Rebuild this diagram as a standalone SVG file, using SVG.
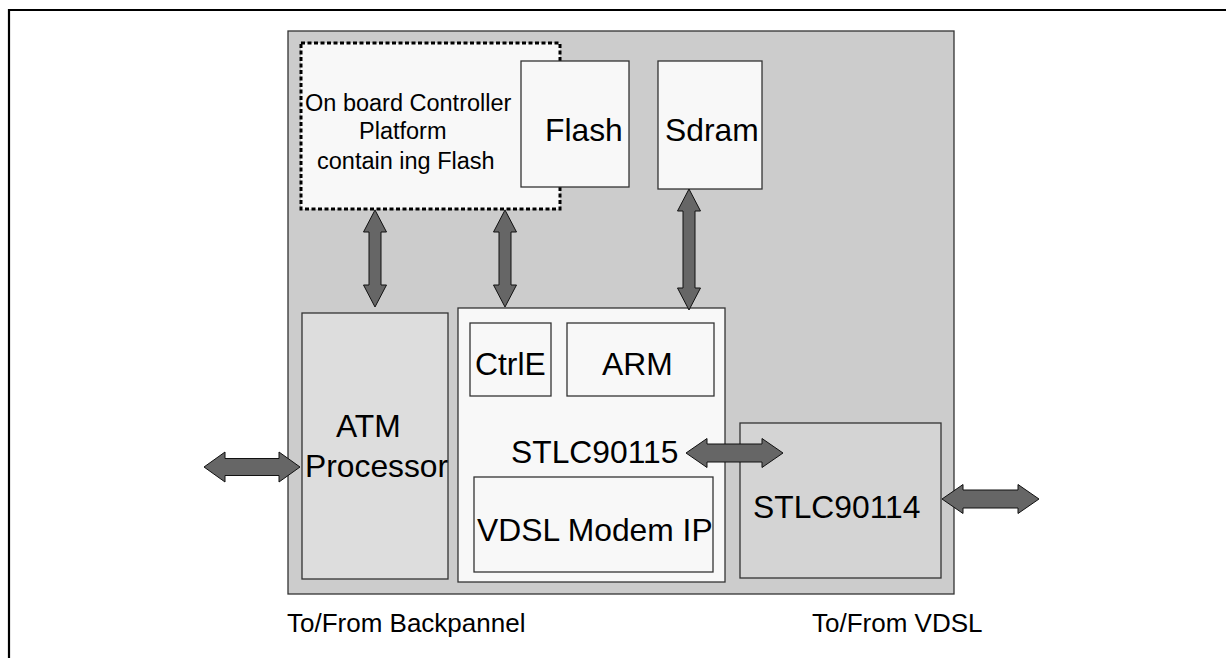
<svg xmlns="http://www.w3.org/2000/svg" width="1226" height="658" viewBox="0 0 1226 658">
<style>
.box{stroke:#333;stroke-width:1.3}
.lt{fill:#f8f8f8}
.t{font-family:"Liberation Sans",Arial,sans-serif;fill:#000}
.big{font-size:31.8px}
.mid{font-size:23.5px}
.sm{font-size:26px}
.arr{fill:#666;stroke:#111;stroke-width:1}
</style>
<rect width="1226" height="658" fill="#fff"/>
<g id="frame">
<path d="M9 658 V10 H1226" fill="none" stroke="#000" stroke-width="2.2"/>
</g>
<g id="board">
<rect class="box" x="288" y="31" width="666" height="563" fill="#cccccc"/>
</g>
<g id="controller-platform">
<rect x="301" y="43" width="259" height="166" fill="#f8f8f8" stroke="#000" stroke-width="3" stroke-dasharray="4 2.5"/>
<text class="t mid" x="305" y="111">On board Controller</text>
<text class="t mid" x="359" y="139">Platform</text>
<text class="t mid" x="317" y="169">contain ing Flash</text>
</g>
<g id="flash">
<rect class="box lt" x="521" y="61" width="108" height="126"/>
<text class="t big" x="545" y="141">Flash</text>
</g>
<g id="sdram">
<rect class="box lt" x="658" y="61" width="104" height="128"/>
<text class="t big" x="665" y="141">Sdram</text>
</g>
<g id="atm-processor">
<rect class="box" x="302" y="313" width="146" height="266" fill="#dddddd"/>
<text class="t big" x="336" y="437">ATM</text>
<text class="t big" x="305" y="477">Processor</text>
</g>
<g id="stlc90115">
<rect class="box lt" x="458" y="308" width="267" height="274"/>
<text class="t big" x="511" y="463">STLC90115</text>
</g>
<g id="ctrle">
<rect class="box lt" x="470" y="323" width="81" height="73"/>
<text class="t big" x="475" y="375">CtrlE</text>
</g>
<g id="arm">
<rect class="box lt" x="567" y="323" width="147" height="73"/>
<text class="t big" x="602" y="375">ARM</text>
</g>
<g id="vdsl-modem-ip">
<rect class="box lt" x="474" y="477" width="239" height="95"/>
<text class="t big" x="477" y="541">VDSL Modem IP</text>
</g>
<g id="stlc90114">
<rect class="box" x="740" y="423" width="201" height="155" fill="#d4d4d4"/>
<text class="t big" x="753" y="518">STLC90114</text>
</g>
<g id="connectors">
<polygon class="arr" points="375,210 386.5,232 381,232 381,285 386.5,285 375,307 363.5,285 369,285 369,232 363.5,232"/>
<polygon class="arr" points="505,210 516.5,232 511,232 511,285 516.5,285 505,307 493.5,285 499,285 499,232 493.5,232"/>
<polygon class="arr" points="689,189 700.5,211 695,211 695,288 700.5,288 689,310 677.5,288 683,288 683,211 677.5,211"/>
<polygon class="arr" points="204,467 225,452 225,458.5 279,458.5 279,452 300,467 279,482 279,475.5 225,475.5 225,482"/>
<polygon class="arr" points="686,453 707,438.5 707,444 762,444 762,438.5 783,453 762,467.5 762,462 707,462 707,467.5"/>
<polygon class="arr" points="942,499 963,484.5 963,490 1018,490 1018,484.5 1039,499 1018,513.5 1018,508 963,508 963,513.5"/>
</g>
<g id="labels">
<text class="t sm" x="287" y="632">To/From Backpannel</text>
<text class="t sm" x="812" y="632">To/From VDSL</text>
</g>
</svg>
